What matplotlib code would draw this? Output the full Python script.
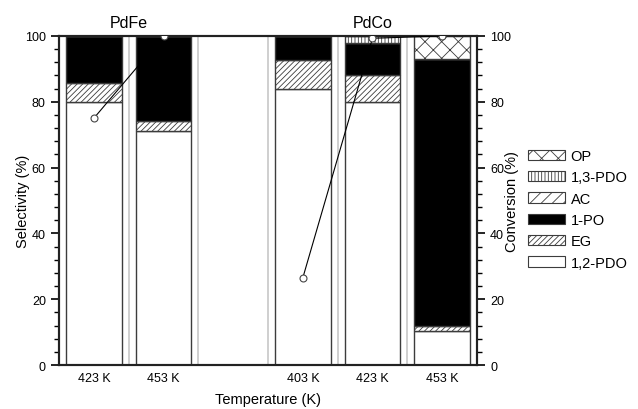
import numpy as np
import matplotlib
matplotlib.use("Agg")
import matplotlib.pyplot as plt
from matplotlib.patches import Patch
from matplotlib.ticker import MultipleLocator
import matplotlib.transforms as mtransforms

plt.rcParams['font.family'] = ['Liberation Sans', 'DejaVu Sans']
plt.rcParams['hatch.linewidth'] = 0.6
plt.rcParams['hatch.color'] = '#222222'

# ---- data ----
tick_labels = ['423 K', '453 K', '', '403 K', '423 K', '453 K']
bar_pos = [0, 1, 3, 4, 5]
groups = ['PdFe', 'PdCo']
group_pos = [0.5, 4]

pdo12 = [80.0, 71.0, 84.0, 80.0, 10.2]
eg = [5.7, 3.3, 8.6, 8.2, 1.8]
po1 = [14.3, 25.7, 7.4, 9.6, 81.0]
ac = [0.0, 0.0, 0.0, 0.0, 0.0]
pdo13 = [0.0, 0.0, 0.0, 2.2, 0.0]
op = [0.0, 0.0, 0.0, 0.0, 7.0]

conv_fe_pos = [0, 1]
conv_fe = [75.0, 100.0]
conv_co_pos = [3, 4, 5]
conv_co = [26.5, 99.3, 100.0]

series = [
    ('1,2-PDO', pdo12, 'white', ''),
    ('EG', eg, 'white', '//////'),
    ('1-PO', po1, 'black', ''),
    ('AC', ac, 'white', '///'),
    ('1,3-PDO', pdo13, 'white', '|||||'),
    ('OP', op, 'white', 'xx'),
]

fig = plt.figure(figsize=(6.38, 4.10), dpi=100)
ax = fig.add_axes([0.0925, 0.1073, 0.6551, 0.8025])

edge = '#3c3c3c'
for xv in [0.5, 1.5, 2.5, 3.5, 4.5]:
    ax.axvline(xv, color='#cccccc', lw=1.3, zorder=0.5)

bottom = np.zeros(len(bar_pos))
for name, vals, fc, hatch in series:
    vals = np.array(vals)
    ax.bar(bar_pos, vals, bottom=bottom, width=0.8, color=fc, edgecolor=edge,
           linewidth=1.0, hatch=hatch, zorder=2)
    bottom += vals

ax.set_xlim(-0.5, 5.5)
ax.set_ylim(0, 100)
ax.set_xticks(range(len(tick_labels)))
ax.set_xticklabels(tick_labels, fontsize=9)
ax.tick_params(axis='x', length=0, pad=5)
ax.yaxis.set_major_locator(MultipleLocator(20))
ax.yaxis.set_minor_locator(MultipleLocator(4))
ax.tick_params(axis='y', which='major', length=6, width=1.2, labelsize=9, direction='out')
ax.tick_params(axis='y', which='minor', length=3.5, width=1.0, direction='out')
ax.set_ylabel('Selectivity (%)', fontsize=10.5)
ax.yaxis.set_label_coords(-0.069, 0.5)
ax.set_xlabel('Temperature (K)', fontsize=10.5, labelpad=6)
for s in ax.spines.values():
    s.set_linewidth(1.5)
    s.set_color('#222222')

ax2 = ax.twinx()
ax2.set_ylim(0, 100)
ax2.yaxis.set_major_locator(MultipleLocator(20))
ax2.yaxis.set_minor_locator(MultipleLocator(4))
ax2.tick_params(axis='y', which='major', length=6, width=1.2, labelsize=9, direction='out')
ax2.tick_params(axis='y', which='minor', length=3.5, width=1.0, direction='out')
ax2.set_ylabel('Conversion (%)', fontsize=10.5)
ax2.yaxis.set_label_coords(1.067, 0.5)
for s in ax2.spines.values():
    s.set_linewidth(1.5)
    s.set_color('#222222')
for p, c in [(conv_fe_pos, conv_fe), (conv_co_pos, conv_co)]:
    ax2.plot(p, c, color='black', lw=0.8, marker='o', ms=5,
             mfc='white', mec='#444444', mew=0.8, zorder=5)

trans = mtransforms.blended_transform_factory(ax.transData, ax.transAxes)
for g, gp in zip(groups, group_pos):
    ax.text(gp, 1.018, g, transform=trans, ha='center', va='bottom', fontsize=11.5)

handles = []
for name, vals, fc, hatch in reversed(series):
    handles.append(Patch(facecolor=fc, edgecolor=edge, hatch=hatch, linewidth=0.8, label=name))
fig.legend(handles=handles, loc='center left', bbox_to_anchor=(0.828, 0.487),
           frameon=False, fontsize=10.5, handlelength=2.5, handleheight=0.7,
           handletextpad=0.4, labelspacing=0.5, borderpad=0, borderaxespad=0)

fig.savefig('out.png', dpi=100)
